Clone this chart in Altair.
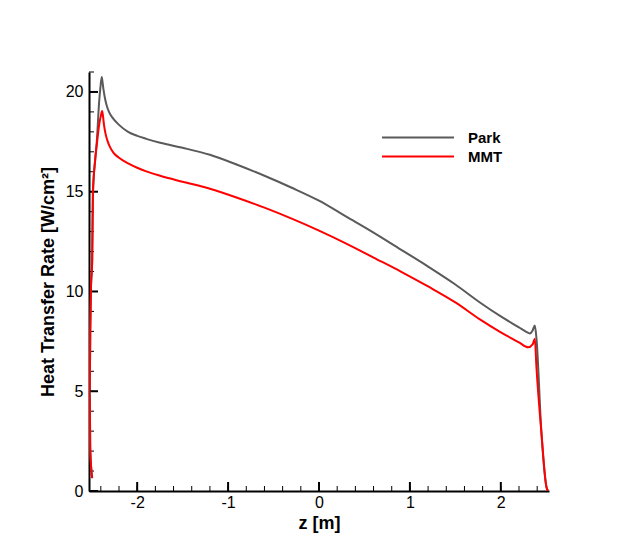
import altair as alt
import pandas as pd

# Park (gray) curve: z [m], heat transfer rate [W/cm^2]
park_z = [-2.495, -2.516, -2.522, -2.516, -2.509, -2.495, -2.487, -2.462, -2.443, -2.42, -2.405, -2.39,
          -2.38, -2.37, -2.355, -2.34, -2.31, -2.27, -2.2, -2.1, -2.0, -1.9, -1.747, -1.5, -1.2, -0.9,
          -0.6, -0.3, 0.0, 0.3, 0.6, 0.9, 1.2, 1.5, 1.77, 2.0, 2.2, 2.28, 2.32, 2.35, 2.374, 2.392,
          2.447, 2.502, 2.52]
park_q = [0.65, 2.05, 5.05, 8.05, 10.05, 11.55, 14.9, 16.6, 17.6, 19.4, 20.2, 20.75,
          20.45, 20.1, 19.7, 19.4, 19.0, 18.7, 18.35, 18.0, 17.8, 17.65, 17.45, 17.2, 16.85, 16.35,
          15.8, 15.2, 14.55, 13.75, 12.95, 12.1, 11.25, 10.35, 9.45, 8.75, 8.2, 7.98, 7.9, 8.05, 8.3, 7.65,
          2.9, 0.2, 0.0]

# MMT (red) curve
mmt_z = [-2.495, -2.516, -2.522, -2.516, -2.509, -2.495, -2.487, -2.462, -2.443, -2.42, -2.40, -2.385,
         -2.375, -2.365, -2.35, -2.33, -2.3, -2.26, -2.2, -2.1, -2.0, -1.9, -1.747, -1.5, -1.2, -0.9,
         -0.6, -0.3, 0.0, 0.3, 0.6, 0.9, 1.2, 1.5, 1.77, 2.0, 2.2, 2.3, 2.35, 2.374, 2.392,
         2.447, 2.502, 2.52]
mmt_q = [0.65, 2.05, 5.05, 8.05, 10.05, 11.55, 14.9, 16.6, 17.4, 18.3, 18.8, 19.05,
         18.75, 18.35, 17.95, 17.6, 17.25, 16.95, 16.7, 16.42, 16.2, 16.02, 15.8, 15.5, 15.15, 14.7,
         14.2, 13.65, 13.05, 12.4, 11.7, 11.0, 10.25, 9.45, 8.6, 7.95, 7.45, 7.2, 7.35, 7.63, 6.2,
         2.9, 0.2, 0.0]

series_names = ["Park", "MMT"]
series_colors = ["#5a5a5a", "#ff0000"]

x_major = [-2, -1, 0, 1, 2]
x_minor = [round(-2.4 + 0.2 * i, 1) for i in range(25)]
y_major = [0, 5, 10, 15, 20]
y_minor = list(range(0, 22))

rows = []
for i, (z, q) in enumerate(zip(park_z, park_q)):
    rows.append({"z": z, "q": q, "series": "Park", "i": i})
for i, (z, q) in enumerate(zip(mmt_z, mmt_q)):
    rows.append({"z": z, "q": q, "series": "MMT", "i": i})
df = pd.DataFrame(rows)

W, H = 460, 419
FONT = "Liberation Sans"

xscale = alt.Scale(domain=[-2.53, 2.53], nice=False, zero=False)
yscale = alt.Scale(domain=[0, 21], nice=False)

lines = alt.Chart(df).mark_line(strokeWidth=2, clip=True, interpolate="monotone").encode(
    x=alt.X("z:Q", scale=xscale,
            axis=alt.Axis(values=x_major, ticks=False, grid=False, domainColor="black", domainWidth=2,
                          labelExpr="toString(datum.value)",
                          labelFontSize=16, labelColor="black", labelPadding=3, labelFont=FONT,
                          title="z [m]", titleFont=FONT, titleFontSize=18, titleFontWeight="bold",
                          titleColor="black", titlePadding=4)),
    y=alt.Y("q:Q", scale=yscale,
            axis=alt.Axis(values=y_major, ticks=False, grid=False, domainColor="black", domainWidth=2,
                          labelExpr="toString(datum.value)",
                          labelFontSize=16, labelColor="black", labelPadding=6, labelFont=FONT,
                          title="Heat Transfer Rate [W/cm²]", titleFont=FONT, titleFontSize=18,
                          titleFontWeight="bold", titleColor="black", titlePadding=8)),
    color=alt.Color("series:N", scale=alt.Scale(domain=series_names, range=series_colors),
                    legend=alt.Legend(title=None, orient="none", legendX=292, legendY=56,
                                      symbolType="stroke", symbolSize=5184, symbolStrokeWidth=2,
                                      clipHeight=19, rowPadding=0, labelFontSize=15,
                                      labelFontWeight="bold", labelFont=FONT, labelColor="black",
                                      labelOffset=13, padding=0)),
    order=alt.Order("i:Q"),
)

xt_major = alt.Chart(pd.DataFrame({"t": x_major})).mark_rule(color="black", strokeWidth=2).encode(
    x=alt.X("t:Q", scale=xscale), y=alt.value(H), y2=alt.value(H - 9))
xt_minor = alt.Chart(pd.DataFrame({"t": x_minor})).mark_rule(color="black", strokeWidth=1).encode(
    x=alt.X("t:Q", scale=xscale), y=alt.value(H), y2=alt.value(H - 5))
yt_major = alt.Chart(pd.DataFrame({"t": y_major})).mark_rule(color="black", strokeWidth=2).encode(
    y=alt.Y("t:Q", scale=yscale), x=alt.value(0), x2=alt.value(9))
yt_minor = alt.Chart(pd.DataFrame({"t": y_minor})).mark_rule(color="black", strokeWidth=1).encode(
    y=alt.Y("t:Q", scale=yscale), x=alt.value(0), x2=alt.value(5))

chart = alt.layer(xt_minor, xt_major, yt_minor, yt_major, lines).properties(
    width=W, height=H,
    background="white",
    autosize=alt.AutoSizeParams(type="none"),
    padding={"left": 81, "top": 64, "right": 64, "bottom": 51},
).configure_view(stroke=None)

chart.save("out.html", embed_options={"renderer": "svg", "actions": False})
